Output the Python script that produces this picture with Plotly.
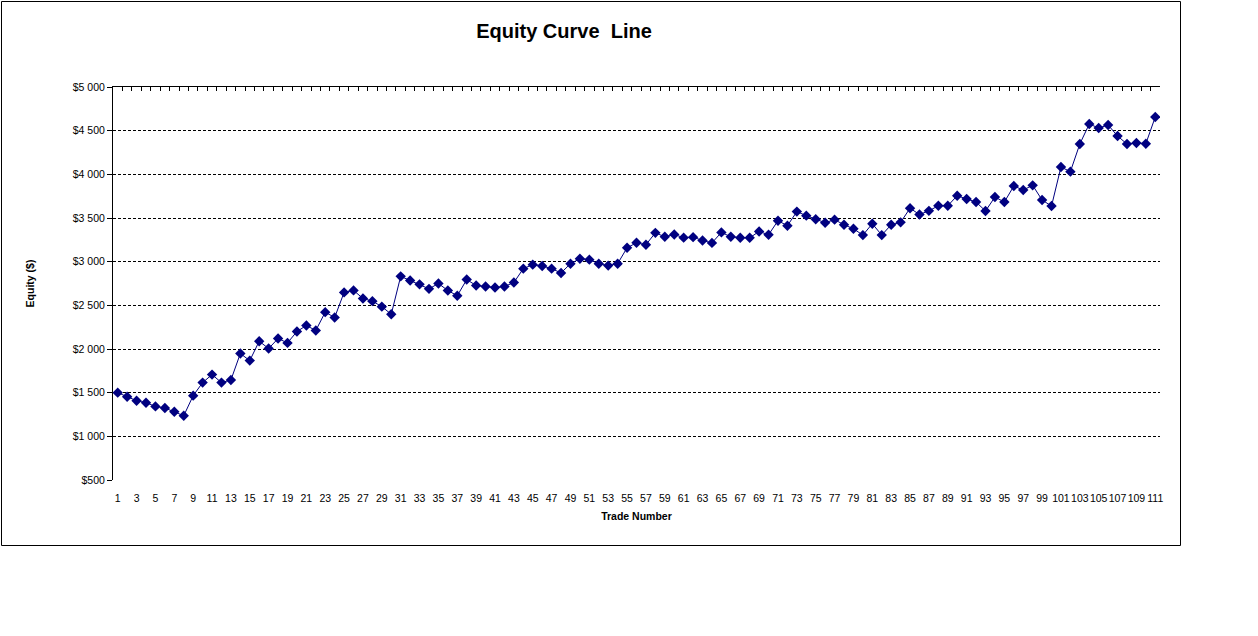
import plotly.graph_objects as go

trade_numbers = list(range(1, 112))
equity = [
    1500, 1454, 1408, 1385, 1343, 1324, 1282, 1236, 1466, 1615,
    1707, 1615, 1645, 1948, 1867, 2089, 2005, 2120, 2070, 2200,
    2269, 2212, 2422, 2361, 2648, 2671, 2579, 2548, 2485, 2398,
    2832, 2785, 2740, 2689, 2750, 2670, 2610, 2795, 2727, 2716,
    2705, 2716, 2761, 2920, 2966, 2951, 2920, 2871, 2977, 3034,
    3023, 2977, 2955, 2977, 3159, 3216, 3194, 3330, 3285, 3311,
    3275, 3281, 3242, 3215, 3335, 3285, 3273, 3273, 3346, 3308,
    3469, 3412, 3573, 3527, 3485, 3446, 3481, 3423, 3377, 3304,
    3435, 3304, 3423, 3450, 3612, 3540, 3582, 3640, 3640, 3755,
    3718, 3683, 3580, 3740, 3683, 3866, 3821, 3874, 3706, 3637,
    4084, 4031, 4347, 4576, 4531, 4565, 4439, 4347, 4359, 4351,
    4657,
]
x_tick_vals = list(range(1, 112, 2))
x_tick_text = [str(v) for v in x_tick_vals]
y_tick_vals = [500, 1000, 1500, 2000, 2500, 3000, 3500, 4000, 4500, 5000]
y_tick_text = ["$500", "$1 000", "$1 500", "$2 000", "$2 500",
               "$3 000", "$3 500", "$4 000", "$4 500", "$5 000"]
boundary_ticks = [n - 0.5 for n in trade_numbers] + [trade_numbers[-1] + 0.5]

FONT = "Liberation Sans, Arial, sans-serif"
NAVY = "#000080"

fig = go.Figure()
fig.add_trace(go.Scatter(
    x=trade_numbers, y=equity, mode="lines+markers",
    line=dict(color=NAVY, width=1),
    marker=dict(symbol="diamond", size=8, color=NAVY),
    showlegend=False, hoverinfo="x+y",
))
# invisible trace to activate the top axis
fig.add_trace(go.Scatter(
    x=[boundary_ticks[0], boundary_ticks[-1]], y=[None, None],
    xaxis="x2", mode="markers", showlegend=False, hoverinfo="skip",
))

L, R, T, B = 113, 1160, 87, 480
W, H = 1258, 636
pw, ph = R - L, B - T

fig.update_layout(
    width=W, height=H,
    margin=dict(l=L, r=W - R, t=T, b=H - B),
    paper_bgcolor="white", plot_bgcolor="white",
    font=dict(family=FONT, color="black", size=10),
    title=dict(text="<b>Equity Curve  Line</b>", x=564 / W, xref="container",
               xanchor="center", y=1 - 31 / H, yref="container", yanchor="middle",
               font=dict(size=20, family=FONT, color="black")),
    xaxis=dict(
        range=[0.5, 111.5], tickmode="array", tickvals=x_tick_vals,
        ticktext=x_tick_text, tickangle=0, showgrid=False, zeroline=False,
        showline=False, ticks="", ticklabelstandoff=10,
        tickfont=dict(size=10.5, family=FONT),
        title=dict(text="<b>Trade Number</b>", font=dict(size=10.5, family=FONT),
                   standoff=10),
        fixedrange=True,
    ),
    xaxis2=dict(
        overlaying="x", side="top", range=[0.5, 111.5], tickmode="array",
        tickvals=boundary_ticks, showticklabels=False, ticks="inside",
        ticklen=4, tickcolor="black", tickwidth=1, showline=True,
        linecolor="black", linewidth=1, showgrid=False, zeroline=False,
        fixedrange=True,
    ),
    yaxis=dict(
        range=[500, 5000], tickmode="array", tickvals=y_tick_vals,
        ticktext=y_tick_text, showgrid=True, gridcolor="black", gridwidth=1,
        griddash="3px,2px", zeroline=False, showline=True, linecolor="black",
        linewidth=1, ticks="outside", ticklen=5, tickcolor="black",
        tickfont=dict(size=10.5, family=FONT),
        title=dict(text="<b>Equity ($)</b>", font=dict(size=10.5, family=FONT),
                   standoff=36),
        fixedrange=True,
    ),
    shapes=[dict(
        type="rect", xref="paper", yref="paper",
        x0=(1.5 - L) / pw, x1=(1180.5 - L) / pw,
        y0=(B - 545.5) / ph, y1=(B - 1.5) / ph,
        line=dict(color="black", width=1), fillcolor="rgba(0,0,0,0)",
        layer="below",
    )],
)

fig.write_html("out.html", config={"displayModeBar": False},
               post_script="document.body.style.margin='0';document.body.style.overflow='hidden';")
